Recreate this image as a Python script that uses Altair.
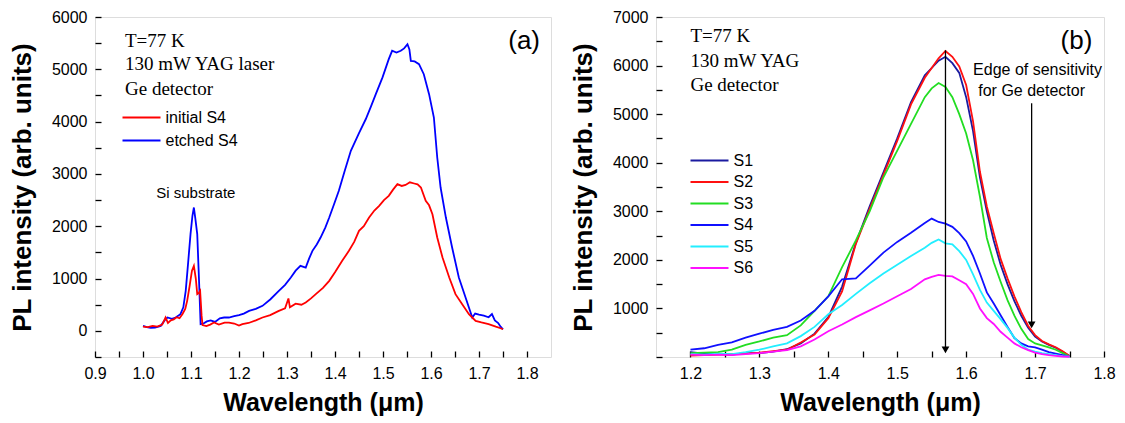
import altair as alt
import pandas as pd

# ---------------- panel (a) data ----------------
wl_initial = [1.000, 1.010, 1.020, 1.030, 1.040, 1.047, 1.052, 1.058, 1.064, 1.070,
              1.076, 1.082, 1.088, 1.092, 1.097, 1.102, 1.106, 1.110, 1.113, 1.116,
              1.119, 1.122, 1.124, 1.132, 1.140, 1.148, 1.158, 1.170, 1.179, 1.190,
              1.200, 1.207, 1.220, 1.235, 1.249, 1.265, 1.283, 1.296, 1.303, 1.306,
              1.318, 1.330, 1.339, 1.350, 1.360, 1.375, 1.388, 1.400, 1.415, 1.429,
              1.440, 1.450, 1.460, 1.471, 1.482, 1.492, 1.502, 1.512, 1.521, 1.530,
              1.539, 1.547, 1.556, 1.565, 1.572, 1.579, 1.589, 1.596, 1.603, 1.613,
              1.624, 1.638, 1.651, 1.665, 1.679, 1.693, 1.705, 1.720, 1.735, 1.745,
              1.750]
pl_initial = [80, 70, 95, 80, 120, 255, 150, 200, 220, 260,
              240, 319, 420, 573, 850, 1150, 1243, 1000, 701, 720,
              765, 300, 110, 90, 120, 159, 120, 159, 159, 140,
              100, 127, 150, 200, 255, 300, 382, 430, 620, 450,
              520, 500, 542, 620, 701, 820, 956, 1120, 1338, 1530,
              1700, 1912, 2000, 2166, 2300, 2390, 2500, 2581, 2700, 2804,
              2770, 2790, 2840, 2817, 2800, 2740, 2486, 2400, 2230, 1784,
              1402, 1019, 701, 510, 319, 191, 160, 130, 80, 50,
              30]

wl_etched = [1.000, 1.008, 1.016, 1.025, 1.037, 1.045, 1.051, 1.060, 1.068, 1.078,
             1.084, 1.089, 1.094, 1.099, 1.103, 1.106, 1.109, 1.113, 1.117, 1.120,
             1.126, 1.133, 1.141, 1.150, 1.160, 1.169, 1.179, 1.190, 1.200, 1.210,
             1.221, 1.235, 1.249, 1.265, 1.283, 1.296, 1.308, 1.318, 1.328, 1.339,
             1.346, 1.353, 1.362, 1.370, 1.380, 1.388, 1.398, 1.408, 1.420, 1.433,
             1.450, 1.464, 1.475, 1.485, 1.499, 1.512, 1.519, 1.528, 1.537, 1.544,
             1.551, 1.555, 1.558, 1.566, 1.575, 1.585, 1.596, 1.606, 1.613, 1.620,
             1.631, 1.644, 1.658, 1.672, 1.686, 1.692, 1.700, 1.710, 1.720, 1.727,
             1.733, 1.740, 1.745, 1.750]
pl_etched = [95, 70, 57, 60, 95, 200, 255, 230, 255, 319,
             450, 765, 1300, 1849, 2200, 2358, 2150, 1849, 900, 127,
             140, 180, 200, 170, 240, 255, 255, 280, 300, 330,
             382, 420, 478, 600, 765, 880, 1019, 1150, 1243, 1210,
             1380, 1530, 1650, 1784, 1980, 2166, 2420, 2677, 3050, 3442,
             3780, 4045, 4290, 4525, 4845, 5195, 5354, 5320, 5354, 5400,
             5480, 5380, 5160, 5150, 5098, 4906, 4525, 4078, 3314, 2740,
             2166, 1593, 1019, 637, 255, 330, 310, 290, 260, 320,
             200, 150, 80, 30]

series_a = ["initial S4", "etched S4"]
colors_a = ["#ff0000", "#0000ff"]

# ---------------- panel (b) data ----------------
wl_b = [1.20, 1.22, 1.24, 1.26, 1.28, 1.30, 1.32, 1.34, 1.36, 1.38,
        1.40, 1.42, 1.44, 1.46, 1.48, 1.50, 1.52, 1.54, 1.55, 1.56,
        1.57, 1.58, 1.59, 1.60, 1.61, 1.62, 1.63, 1.64, 1.65, 1.66,
        1.67, 1.68, 1.69, 1.70, 1.71, 1.72, 1.73, 1.74, 1.75]
pl_s1 = [100, 70, 60, 50, 80, 80, 110, 160, 280, 480,
         820, 1450, 2350, 3100, 3800, 4500, 5250, 5800, 5950, 6100,
         6180, 6050, 5850, 5350, 4650, 3700, 3000, 2400, 1900, 1500,
         1150, 850, 600, 420, 320, 250, 190, 110, 20]
pl_s2 = [30, 40, 50, 60, 70, 90, 120, 150, 300, 460,
         800, 1350, 2330, 3050, 3750, 4450, 5200, 5750, 5950, 6150,
         6300, 6180, 5980, 5600, 4850, 3814, 3100, 2550, 2020, 1620,
         1250, 922, 640, 450, 330, 260, 200, 120, 20]
pl_s3 = [80, 90, 100, 150, 250, 320, 400, 450, 650, 950,
         1250, 1850, 2400, 3000, 3700, 4250, 4800, 5350, 5530, 5640,
         5560, 5350, 5000, 4600, 4050, 3300, 2450, 1950, 1550, 1170,
         850, 580, 370, 280, 240, 200, 150, 80, 10]
pl_s4 = [150, 180, 250, 300, 400, 480, 560, 620, 750, 950,
         1250, 1600, 1620, 1880, 2150, 2370, 2560, 2760, 2850, 2780,
         2746, 2680, 2550, 2380, 2080, 1720, 1330, 1100, 860, 620,
         390, 280, 220, 200, 150, 100, 70, 40, 10]
pl_s5 = [60, 50, 70, 60, 100, 150, 220, 280, 430, 620,
         880, 1070, 1300, 1520, 1720, 1900, 2080, 2250, 2350, 2420,
         2340, 2320, 2180, 2000, 1700, 1380, 1120, 950, 780, 600,
         400, 250, 150, 110, 80, 60, 40, 20, 5]
pl_s6 = [50, 40, 50, 40, 60, 80, 110, 140, 220, 360,
         530, 670, 820, 960, 1100, 1250, 1400, 1600, 1650, 1690,
         1670, 1660, 1580, 1500, 1300, 1000, 800, 680, 520, 400,
         280, 200, 140, 90, 60, 40, 25, 10, 5]

series_b = ["S1", "S2", "S3", "S4", "S5", "S6"]
colors_b = ["#1a1aa0", "#ff1010", "#22dd22", "#1010ff", "#22eeff", "#ff10ff"]

# ---------------- ticks ----------------
xticks_a = [0.9, 0.95, 1.0, 1.05, 1.1, 1.15, 1.2, 1.25, 1.3, 1.35, 1.4, 1.45,
            1.5, 1.55, 1.6, 1.65, 1.7, 1.75, 1.8]
yticks_a = [-500, 0, 500, 1000, 1500, 2000, 2500, 3000, 3500, 4000, 4500,
            5000, 5500, 6000]
xticks_b = [1.2, 1.25, 1.3, 1.35, 1.4, 1.45, 1.5, 1.55, 1.6, 1.65, 1.7, 1.75, 1.8]
yticks_b = [0, 500, 1000, 1500, 2000, 2500, 3000, 3500, 4000, 4500, 5000,
            5500, 6000, 6500, 7000]

# ---------------- annotations ----------------
notes_a = ["T=77 K", "130 mW YAG laser", "Ge detector"]
notes_a_x = [0.9625, 0.9625, 0.9625]
notes_a_y = [5545, 5105, 4627]
si_label = ["Si substrate"]
si_x = [1.110]
si_y = [2640]
tag_a = ["(a)"]
tag_a_x = [1.794]
tag_a_y = [5548]

notes_b = ["T=77 K", "130 mW YAG", "Ge detector"]
notes_b_x = [1.2, 1.2, 1.2]
notes_b_y = [6607, 6091, 5596]
edge_label = ["Edge of sensitivity", "for Ge detector"]
edge_x = [1.7036, 1.695]
edge_y = [5905, 5472]
tag_b = ["(b)"]
tag_b_x = [1.760]
tag_b_y = [6504]
arrow_x = [1.57, 1.695]
arrow_top = [6318, 5224]
arrow_head = [145, 660]

SANS = "Liberation Sans"
SERIF = "Liberation Serif"


def x_axis(vals):
    return alt.Axis(
        values=vals, title="Wavelength (μm)",
        labelExpr="round(datum.value*100) % 10 == 0 ? format(datum.value, '.1f') : ''",
        domain=False, grid=False, tickSize=6, offset=-6, tickColor="black",
        tickWidth=1.3, labelFont=SANS, labelFontSize=16, labelColor="black",
        labelPadding=8, labelOverlap=False, labelFlush=False,
        titleFont=SANS, titleFontSize=25, titleFontWeight="bold",
        titleColor="black", titlePadding=9)


def y_axis(vals, show_zero):
    cond = "datum.value % 1000 == 0" + ("" if show_zero else " && datum.value > 0")
    return alt.Axis(
        values=vals, title="PL intensity (arb. units)",
        labelExpr=cond + " ? format(datum.value, 'd') : ''",
        domain=False, grid=False, tickSize=6, offset=-6, tickColor="black",
        tickWidth=1.3, labelFont=SANS, labelFontSize=16, labelColor="black",
        labelPadding=8, labelOverlap=False, labelFlush=False,
        titleFont=SANS, titleFontSize=26, titleFontWeight="bold",
        titleColor="black", titlePadding=16)


def legend(lx, ly, rp):
    return alt.Legend(
        title=None, orient="none", legendX=lx, legendY=ly, padding=0,
        symbolType="M-2,0H2", symbolSize=361, symbolStrokeWidth=2.2,
        labelFont=SANS, labelFontSize=16, labelColor="black",
        labelOffset=13, rowPadding=rp)


# ---------------- panel (a) ----------------
df_a = pd.concat([
    pd.DataFrame({"wl": wl_etched, "pl": pl_etched, "sample": series_a[1]}),
    pd.DataFrame({"wl": wl_initial, "pl": pl_initial, "sample": series_a[0]}),
])
xs_a = alt.Scale(domain=[0.9, 1.85], nice=False, zero=False)
ys_a = alt.Scale(domain=[-500, 6000], nice=False, zero=False)
XA = alt.X("wl:Q", scale=xs_a, axis=x_axis(xticks_a))
YA = alt.Y("pl:Q", scale=ys_a, axis=y_axis(yticks_a, True))

lines_a = alt.Chart(df_a).mark_line(strokeWidth=1.8).encode(
    x=XA, y=YA,
    color=alt.Color("sample:N", scale=alt.Scale(domain=series_a, range=colors_a),
                    legend=legend(35.5, 89.5, 4)),
)
txt_a = alt.Chart(pd.DataFrame({"wl": notes_a_x, "pl": notes_a_y, "t": notes_a})).mark_text(
    align="left", baseline="middle", font=SERIF, fontSize=19, color="black"
).encode(x=XA, y=YA, text="t:N")
si_a = alt.Chart(pd.DataFrame({"wl": si_x, "pl": si_y, "t": si_label})).mark_text(
    align="center", baseline="middle", font=SANS, fontSize=15, color="black"
).encode(x=XA, y=YA, text="t:N")
tagA = alt.Chart(pd.DataFrame({"wl": tag_a_x, "pl": tag_a_y, "t": tag_a})).mark_text(
    align="center", baseline="middle", font=SANS, fontSize=26, color="black"
).encode(x=XA, y=YA, text="t:N")

panel_a = alt.layer(lines_a, txt_a, si_a, tagA).properties(width=456, height=340)

# ---------------- panel (b) ----------------
pl_b = [pl_s1, pl_s2, pl_s3, pl_s4, pl_s5, pl_s6]
df_b = pd.concat([pd.DataFrame({"wl": wl_b, "pl": v, "sample": s})
                  for s, v in zip(series_b, pl_b)])
xs_b = alt.Scale(domain=[1.15, 1.8], nice=False, zero=False)
ys_b = alt.Scale(domain=[0, 7000], nice=False, zero=False)
XB = alt.X("wl:Q", scale=xs_b, axis=x_axis(xticks_b))
YB = alt.Y("pl:Q", scale=ys_b, axis=y_axis(yticks_b, False))

lines_b = alt.Chart(df_b).mark_line(strokeWidth=1.8).encode(
    x=XB, y=YB,
    color=alt.Color("sample:N", scale=alt.Scale(domain=series_b, range=colors_b),
                    legend=legend(42.5, 132.5, 2.5)),
)
txt_b = alt.Chart(pd.DataFrame({"wl": notes_b_x, "pl": notes_b_y, "t": notes_b})).mark_text(
    align="left", baseline="middle", font=SERIF, fontSize=19, color="black"
).encode(x=XB, y=YB, text="t:N")
edge_b = alt.Chart(pd.DataFrame({"wl": edge_x, "pl": edge_y, "t": edge_label})).mark_text(
    align="center", baseline="middle", font=SANS, fontSize=16, color="black"
).encode(x=XB, y=YB, text="t:N")
tagB = alt.Chart(pd.DataFrame({"wl": tag_b_x, "pl": tag_b_y, "t": tag_b})).mark_text(
    align="center", baseline="middle", font=SANS, fontSize=26, color="black"
).encode(x=XB, y=YB, text="t:N")
arrows_df = pd.DataFrame({"wl": arrow_x, "pl": arrow_top, "pl2": arrow_head})
rules_b = alt.Chart(arrows_df).mark_rule(color="black", strokeWidth=1.3).encode(
    x=XB, y=YB, y2="pl2:Q")
heads_b = alt.Chart(pd.DataFrame({"wl": arrow_x, "pl": arrow_head})).mark_point(
    shape="triangle-down", filled=True, color="black", size=60, opacity=1
).encode(x=XB, y=YB)

panel_b = alt.layer(lines_b, rules_b, heads_b, txt_b, edge_b, tagB).properties(
    width=448, height=340)

chart = alt.hconcat(panel_a, panel_b, spacing=17).resolve_scale(
    color="independent", x="independent", y="independent"
).properties(
    padding={"left": 0, "top": 0, "right": 0, "bottom": 0}
).configure_view(stroke="black", strokeWidth=1.5).configure(background="white")

chart.save("out.html", embed_options={"renderer": "svg", "actions": False})
